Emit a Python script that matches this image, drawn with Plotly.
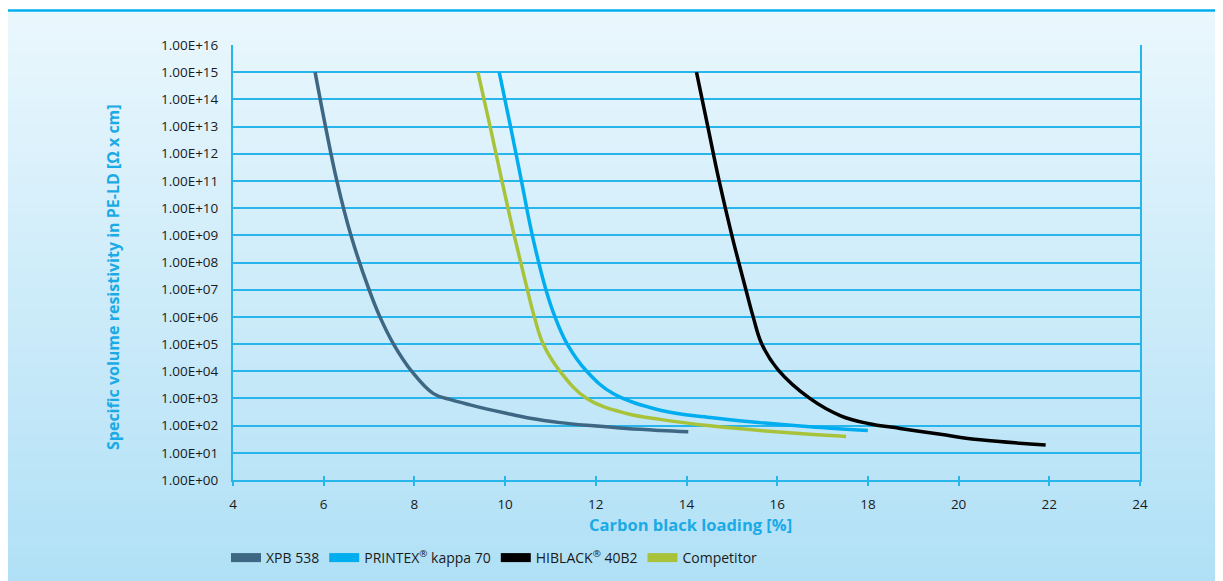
import plotly.graph_objects as go

# ---- data ----
xpb_x = [5.81, 6.04, 6.29, 6.60, 7.00, 7.24, 7.54, 7.94, 8.42, 8.80, 9.23, 10.0, 10.55, 11.21, 11.95, 12.68, 13.42, 14.04]
xpb_y = [1e15, 1e13, 1e11, 1e9, 1e7, 1e6, 1e5, 1e4, 1.5e3, 9.0e2, 5.8e2, 2.9e2, 1.86e2, 1.29e2, 9.8e1, 7.8e1, 6.6e1, 5.9e1]

printex_x = [9.87, 10.12, 10.36, 10.60, 10.90, 11.10, 11.37, 11.80, 12.39, 13.42, 14.52, 15.62, 16.72, 18.0]
printex_y = [1e15, 1e13, 1e11, 1e9, 1e7, 1e6, 1e5, 1e4, 1.48e3, 3.7e2, 2.0e2, 1.29e2, 9.1e1, 6.6e1]

hiblack_x = [14.22, 14.47, 14.72, 15.0, 15.31, 15.47, 15.66, 16.02, 16.72, 17.40, 18.0, 18.71, 19.6, 20.48, 21.92]
hiblack_y = [1e15, 1e13, 1e11, 1e9, 1e7, 1e6, 1e5, 1.12e4, 1.0e3, 2.3e2, 1.2e2, 7.9e1, 4.8e1, 3.0e1, 1.95e1]

comp_x = [9.40, 9.67, 9.93, 10.20, 10.49, 10.645, 10.84, 11.21, 11.80, 12.68, 13.42, 14.52, 15.62, 16.72, 17.52]
comp_y = [1e15, 1e13, 1e11, 1e9, 1e7, 1e6, 1e5, 1e4, 1.0e3, 2.8e2, 1.7e2, 9.8e1, 6.6e1, 4.8e1, 4.0e1]

series_names = ["XPB 538", "PRINTEX<sup>®</sup> kappa 70", "HIBLACK<sup>®</sup> 40B2", "Competitor"]
series_colors = ["#3d6782", "#00adef", "#000000", "#a8c33a"]

y_tickvals = [10 ** k for k in range(0, 17)]
y_ticktext = ["1.00E+%02d" % k for k in range(0, 17)]
x_tickvals = list(range(4, 25, 2))

x_title = "Carbon black loading [%]"
y_title = "Specific volume resistivity in PE-LD [Ω x cm]"

FONT = "Open Sans"
BLUE = "#1aaae5"
GRID = "#27b5ec"
TXT = "#1a1a1a"

fig = go.Figure()
data = [(xpb_x, xpb_y), (printex_x, printex_y), (hiblack_x, hiblack_y), (comp_x, comp_y)]
for (xs, ys), name, col in zip(data, series_names, series_colors):
    fig.add_trace(go.Scatter(x=xs, y=ys, mode="lines", name=name, showlegend=False,
                             line=dict(color=col, width=3.5, shape="spline", smoothing=1.1),
                             hoverinfo="skip"))
# legend swatches
for name, col in zip(series_names, series_colors):
    fig.add_trace(go.Scatter(x=[None], y=[None], mode="lines", name=name,
                             line=dict(color=col, width=9)))

# page has an 8px body margin: work in reference pixels, offset by 8
OFF = 8
W, H = 1223 - OFF, 581 - OFF
ml, mt = 233 - OFF, 45 - OFF
pr, pb = 1140 - OFF, 480 - OFF
mr, mb = W - pr, H - pb
pw, ph = pr - ml, pb - mt
def px2x(p):
    return (p - OFF - ml) / pw
def py2y(p):
    return (pb - (p - OFF)) / ph

shapes = []
top, bot = 12, 585
n = 60
c0 = (234, 247, 253)
c1 = (176, 224, 246)
for i in range(n):
    y0p = top + (bot - top) * i / n
    y1p = top + (bot - top) * (i + 1) / n
    t = (i + 0.5) / n
    c = tuple(int(round(c0[k] + (c1[k] - c0[k]) * t)) for k in range(3))
    shapes.append(dict(type="rect", xref="paper", yref="paper", layer="below",
                       x0=px2x(8), x1=px2x(1230), y0=py2y(y1p + 0.6), y1=py2y(y0p),
                       line=dict(width=0), fillcolor="rgb(%d,%d,%d)" % c))
shapes.append(dict(type="line", xref="paper", yref="paper", layer="below",
                   x0=px2x(8), x1=px2x(1230), y0=py2y(10.5), y1=py2y(10.5),
                   line=dict(color="#00aeef", width=2.5)))
fig.update_layout(shapes=shapes)

fig.update_layout(
    width=W, height=H,
    margin=dict(l=ml, r=mr, t=mt, b=mb, autoexpand=False),
    paper_bgcolor="white", plot_bgcolor="rgba(0,0,0,0)",
    font=dict(family=FONT, size=13.5, color=TXT),
    showlegend=True,
    legend=dict(orientation="h", x=px2x(226), y=py2y(558), xanchor="left", yanchor="middle",
                bgcolor="rgba(0,0,0,0)", itemwidth=30, font=dict(size=14, color=TXT),
                traceorder="normal", tracegroupgap=0),
    xaxis=dict(range=[4, 24], tickvals=x_tickvals, showgrid=False, zeroline=False,
               showline=True, linecolor=GRID, linewidth=2, mirror=False,
               ticks="outside", ticklen=4, tickwidth=1.5, tickcolor=GRID,
               ticklabelstandoff=7, tickfont=dict(size=13.5, color=TXT)),
    xaxis2=dict(range=[4, 24], tickvals=x_tickvals, overlaying="x", matches="x",
                showgrid=False, zeroline=False, showticklabels=False, showline=False,
                ticks="inside", ticklen=4, tickwidth=1.5, tickcolor=GRID, side="bottom"),
    yaxis=dict(type="log", range=[0, 16], tickvals=y_tickvals, ticktext=y_ticktext,
               showgrid=True, gridcolor=GRID, gridwidth=1.6, zeroline=False,
               showline=True, linecolor=GRID, linewidth=2, mirror=True,
               ticks="", ticklabelstandoff=10, tickfont=dict(size=13.5, color=TXT)),
    annotations=[
        dict(text="<b>%s</b>" % x_title, xref="paper", yref="paper", x=px2x(690), y=py2y(524),
             showarrow=False, font=dict(size=16.5, color=BLUE, family=FONT), xanchor="center", yanchor="middle"),
        dict(text="<b>%s</b>" % y_title, xref="paper", yref="paper", x=px2x(113), y=py2y(277),
             showarrow=False, textangle=-90, font=dict(size=16, color=BLUE, family=FONT),
             xanchor="center", yanchor="middle"),
    ],
)
# dummy trace to activate xaxis2 ticks
fig.add_trace(go.Scatter(x=[None], y=[None], xaxis="x2", showlegend=False, hoverinfo="skip"))

fig.write_html("out.html")
